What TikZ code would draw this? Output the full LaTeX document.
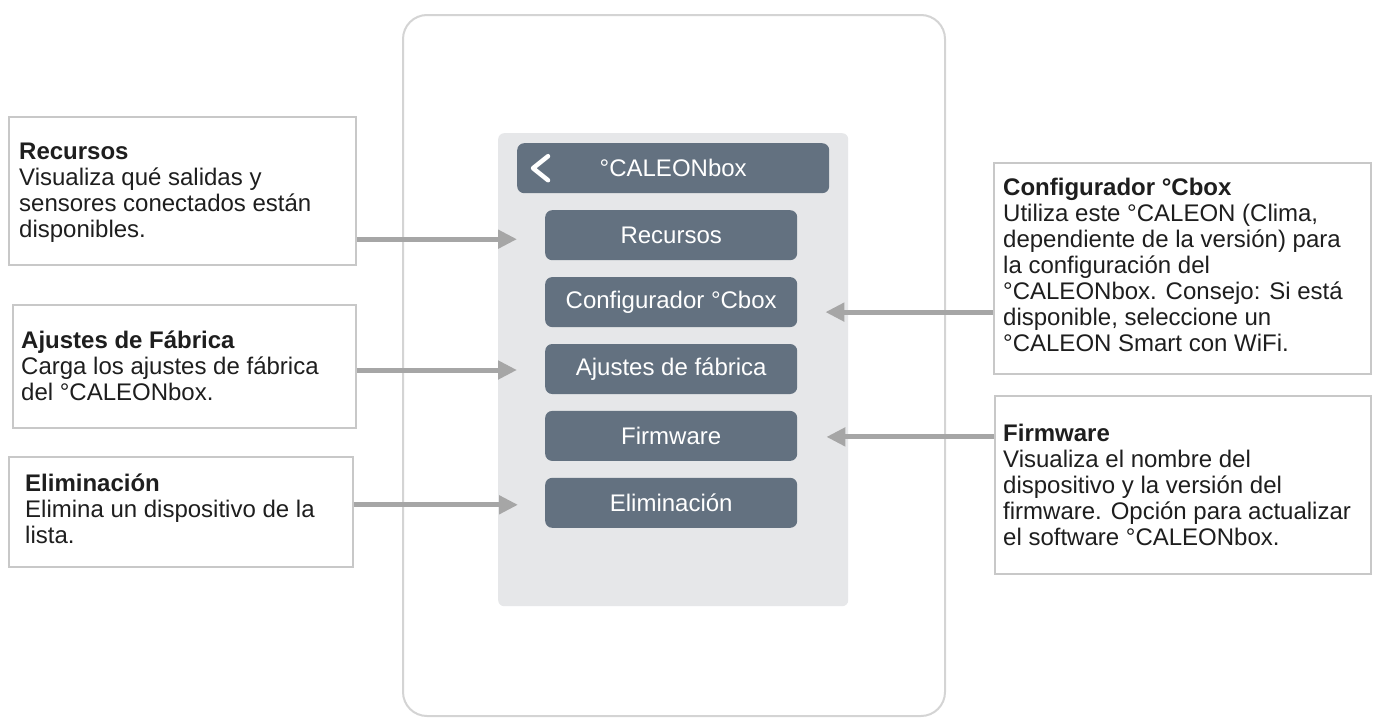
\documentclass[tikz,border=0pt]{standalone}
\usepackage{fontspec}
\setmainfont{Liberation Sans}
\usetikzlibrary{arrows.meta,positioning,calc}

\definecolor{slate}{HTML}{637180}
\definecolor{panelgray}{HTML}{E6E7E9}
\definecolor{framegray}{HTML}{D4D4D4}
\definecolor{boxgray}{HTML}{C8C8C8}
\definecolor{arrowgray}{HTML}{A6A6A6}
\definecolor{inkgray}{HTML}{1E1E1E}

\newcommand{\notehead}[1]{\rule{0pt}{22pt}\textbf{#1}}

\begin{document}
\begin{tikzpicture}[x=1pt,y=-1pt,font=\fontsize{24}{26}\selectfont,node distance=16.5pt,
    btn/.style={fill=slate,text=white,rounded corners=7pt,minimum width=252pt,minimum height=50pt,inner sep=0pt},
    callout/.style={draw=boxgray,line width=1.6pt,fill=white,anchor=north west,inner sep=0pt},
    note/.style={anchor=north west,align=left,inner sep=0pt,text=inkgray},
    pointer/.style={draw=arrowgray,line width=5pt,-{Triangle[length=19pt,width=18pt]}}]
  \useasboundingbox (0,0) rectangle (1375,718);

  % device and menu
  \draw[framegray,line width=2pt,fill=white,rounded corners=24pt] (403,15) rectangle (945,716);
  \node[fill=panelgray,rounded corners=6pt,minimum width=350pt,minimum height=473pt,
        inner sep=0pt,anchor=north west] (panel) at (498,133) {};
  \node[btn,minimum width=312pt,anchor=north west] (hdr) at (517,143) {°CALEONbox};
  \draw[white,line width=4.5pt,line cap=round,line join=round]
    ($(hdr.west)+(31,-12)$) -- ++(-15,12) -- ++(15,12);
  \node[btn,anchor=north west] (recBtn) at (545,210) {Recursos};
  \node[btn,below=of recBtn] (cfgBtn) {Configurador °Cbox};
  \node[btn,below=of cfgBtn] (facBtn) {Ajustes de fábrica};
  \node[btn,below=of facBtn] (fwBtn)  {Firmware};
  \node[btn,below=of fwBtn]  (delBtn) {Eliminación};

  % callouts
  \node[callout,minimum width=347pt,minimum height=148pt] (recBox) at (8,116) {};
  \node[note] (recTxt) at (19,137) {\notehead{Recursos}\\Visualiza qué salidas y\\sensores conectados están\\disponibles.};
  \node[callout,minimum width=343pt,minimum height=123pt] (facBox) at (12,304) {};
  \node[note] (facTxt) at (21,326) {\notehead{Ajustes de Fábrica}\\Carga los ajustes de fábrica\\del °CALEONbox.};
  \node[callout,minimum width=344pt,minimum height=110pt] (delBox) at (8,456) {};
  \node[note] (delTxt) at (25,469) {\notehead{Eliminación}\\Elimina un dispositivo de la\\lista.};
  \node[callout,minimum width=377pt,minimum height=211pt] (cfgBox) at (993,162) {};
  \node[note] (cfgTxt) at (1003,173) {\notehead{Configurador °Cbox}\\Utiliza este °CALEON (Clima,\\dependiente de la versión) para\\la configuración del\\°CALEONbox. Consejo: Si está\\disponible, seleccione un\\°CALEON Smart con WiFi.};
  \node[callout,minimum width=376pt,minimum height=178pt] (fwBox) at (994,395) {};
  \node[note] (fwTxt) at (1003,419) {\notehead{Firmware}\\Visualiza el nombre del\\dispositivo y la versión del\\firmware. Opción para actualizar\\el software °CALEONbox.};

  % arrows
  \draw[pointer] ($(recBox.east |- recBtn.west)+(0,4)$) -- ($(recBtn.west)+(-28,4)$);
  \draw[pointer] ($(facBox.east |- facBtn.west)+(0,1)$) -- ($(facBtn.west)+(-28,1)$);
  \draw[pointer] ($(delBox.east |- delBtn.west)+(0,2)$) -- ($(delBtn.west)+(-27,2)$);
  \draw[pointer] ($(cfgBox.west |- cfgBtn.east)+(0,10)$) -- ($(cfgBtn.east)+(28,10)$);
  \draw[pointer] ($(fwBox.west |- fwBtn.east)+(0,1)$) -- ($(fwBtn.east)+(29,1)$);
\end{tikzpicture}
\end{document}
